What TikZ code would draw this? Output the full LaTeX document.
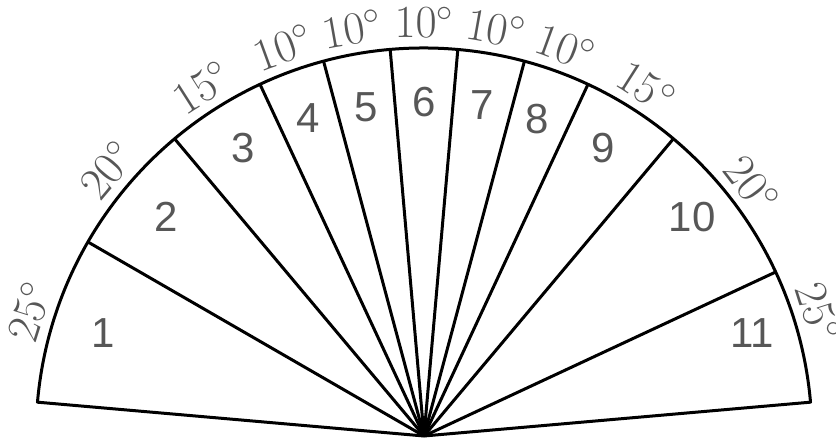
\RequirePackage{fix-cm}
\documentclass[tikz,border=0pt]{standalone}
\usepackage{fontspec}
\newfontfamily\numfont{Liberation Sans}
\usepackage{tikz}
\definecolor{labelgray}{HTML}{575757}

\begin{document}
\begin{tikzpicture}[x=1pt, y=1pt,
  fanline/.style={line width=3pt, line join=round},
  num/.style={font=\numfont\fontsize{42}{42}\selectfont, text=labelgray},
  deg/.style={font=\fontsize{46}{46}\selectfont, text=labelgray, anchor=base, inner sep=0pt}
]
  \useasboundingbox (-424,-2) rectangle (412,436);
  \coordinate (O) at (0,0);

  % Fan outline
  \draw[fanline] (O) -- (175:388) arc[start angle=175, end angle=5, radius=388] -- cycle;

  % Sector boundaries
  \foreach \a in {150,130,115,105,95,85,75,65,50,25}
    \draw[fanline] (O) -- (\a:388);

  % Sector numbers
  \foreach \a/\r/\n in {162.3/337/1,139.6/338/2,122.2/340/3,110/338/4,100/334/5,90/334/6,80/336/7,70.3/337/8,58/339/9,39.2/346/10,17.4/344/11}
    \node[num] (sec\n) at (\a:\r) {\n};

  % Angle labels
  \foreach \a/\d [count=\i] in {162.5/25,140/20,122.5/15,110/10,100/10,90/10,80/10,70/10,57.5/15,37.5/20,17.5/25}
    \node[deg, rotate=\a-90] (ang\i) at (\a:398) {$\d^\circ$};
\end{tikzpicture}
\end{document}
